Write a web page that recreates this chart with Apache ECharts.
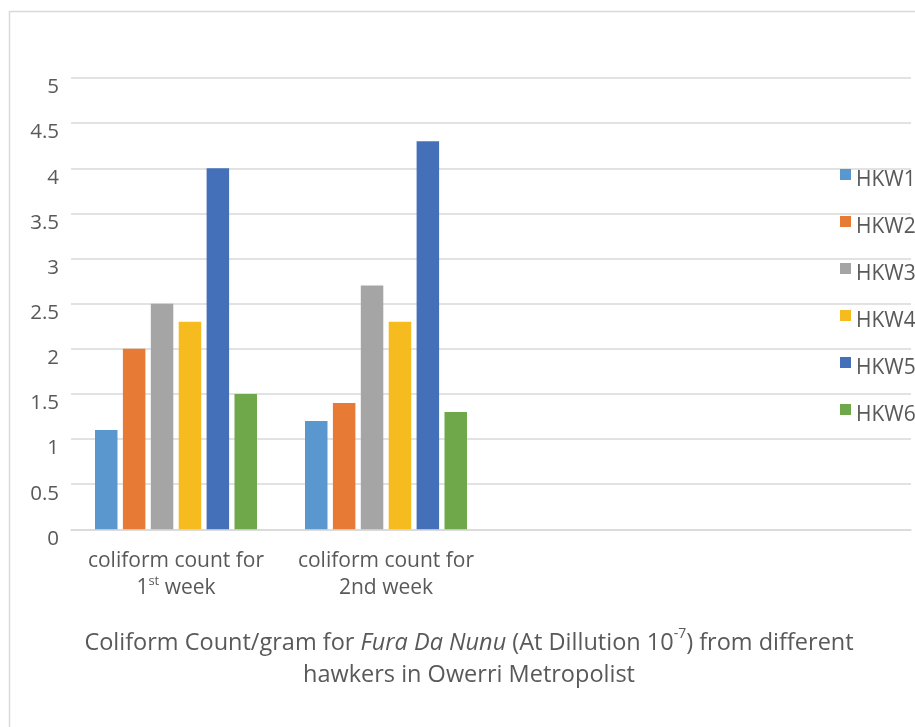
<!DOCTYPE html>
<html>
<head>
<meta charset="utf-8">
<script src="https://cdn.jsdelivr.net/npm/echarts@6/dist/echarts.min.js"></script>
<style>
html,body{margin:0;padding:0;background:#fff;}
#chart{width:915px;height:727px;}
</style>
</head>
<body>
<div id="chart"></div>
<script>
// Data
var categories = ['coliform count for\n1{sup|st} week', 'coliform count for\n2nd week', '', ''];
var seriesNames = ['HKW1', 'HKW2', 'HKW3', 'HKW4', 'HKW5', 'HKW6'];
var hkw1 = [1.1, 1.2];
var hkw2 = [2.0, 1.4];
var hkw3 = [2.5, 2.7];
var hkw4 = [2.3, 2.3];
var hkw5 = [4.0, 4.3];
var hkw6 = [1.5, 1.3];
var yTicks = [0, 0.5, 1, 1.5, 2, 2.5, 3, 3.5, 4, 4.5, 5];
var titleText = 'Coliform Count/gram for {i|Fura Da Nunu} (At Dillution 10{sup|-7}) from different\nhawkers in Owerri Metropolist';
var colors = ['#5B97CF', '#E77B35', '#A5A5A5', '#F6BB1F', '#4370B8', '#6FA84A'];

var allValues = [hkw1, hkw2, hkw3, hkw4, hkw5, hkw6];
var FONT = "'Open Sans', 'Noto Sans', sans-serif";
var TXT = '#595959';

var chart = echarts.init(document.getElementById('chart'), null, {renderer: 'canvas'});

var series = seriesNames.map(function (name, i) {
  return {
    name: name,
    type: 'bar',
    data: allValues[i],
    barWidth: 22.5,
    barGap: '24%',
    itemStyle: {color: colors[i]},
    emphasis: {disabled: true}
  };
});

chart.setOption({
  animation: false,
  backgroundColor: '#fff',
  color: colors,
  graphic: [{
    type: 'rect',
    shape: {x: 9.5, y: 11.5, width: 1000, height: 1000},
    style: {fill: 'none', stroke: '#d9d9d9', lineWidth: 1.5},
    silent: true,
    z: -10
  }, {
    type: 'text',
    x: 469,
    y: 627,
    silent: true,
    style: {
      text: titleText,
      align: 'center',
      verticalAlign: 'top',
      fontFamily: FONT,
      fontSize: 23.5,
      fill: TXT,
      lineHeight: 32,
      rich: {
        i: {fontFamily: FONT, fontSize: 23.5, fontStyle: 'italic', fill: TXT, lineHeight: 32},
        sup: {fontFamily: FONT, fontSize: 14, fill: TXT, verticalAlign: 'top', lineHeight: 32, padding: [0, 0, 14, 0]}
      }
    }
  }],
  legend: {
    orient: 'vertical',
    left: 840,
    top: 158,
    padding: 0,
    itemGap: 14,
    itemWidth: 11,
    itemHeight: 11,
    icon: 'rect',
    data: seriesNames,
    formatter: function (name) { return '{a|' + name + '}'; },
    textStyle: {
      fontFamily: FONT,
      fontSize: 21,
      color: TXT,
      rich: {
        a: {fontFamily: FONT, fontSize: 21, color: TXT, lineHeight: 22, padding: [12, 0, 0, 0]}
      }
    },
    selectedMode: false
  },
  grid: {
    left: 71,
    right: 4,
    top: 78,
    bottom: 197.7,
    containLabel: false
  },
  xAxis: {
    type: 'category',
    data: categories,
    axisLine: {show: true, lineStyle: {color: '#d9d9d9', width: 1.5}},
    axisTick: {show: false},
    axisLabel: {
      interval: 0,
      margin: 18,
      fontFamily: FONT,
      fontSize: 21,
      color: TXT,
      lineHeight: 27,
      rich: {
        sup: {fontFamily: FONT, fontSize: 13, color: TXT, verticalAlign: 'top', lineHeight: 27, padding: [0, 0, 10, 0]}
      }
    }
  },
  yAxis: {
    type: 'value',
    min: yTicks[0],
    max: yTicks[yTicks.length - 1],
    interval: yTicks[1] - yTicks[0],
    axisLine: {show: false},
    axisTick: {show: false},
    splitLine: {lineStyle: {color: '#d9d9d9', width: 1.5}},
    axisLabel: {
      margin: 12,
      fontFamily: FONT,
      fontSize: 20.5,
      color: TXT,
      verticalAlign: 'top',
      lineHeight: 19
    }
  },
  series: series
});
</script>
</body>
</html>
